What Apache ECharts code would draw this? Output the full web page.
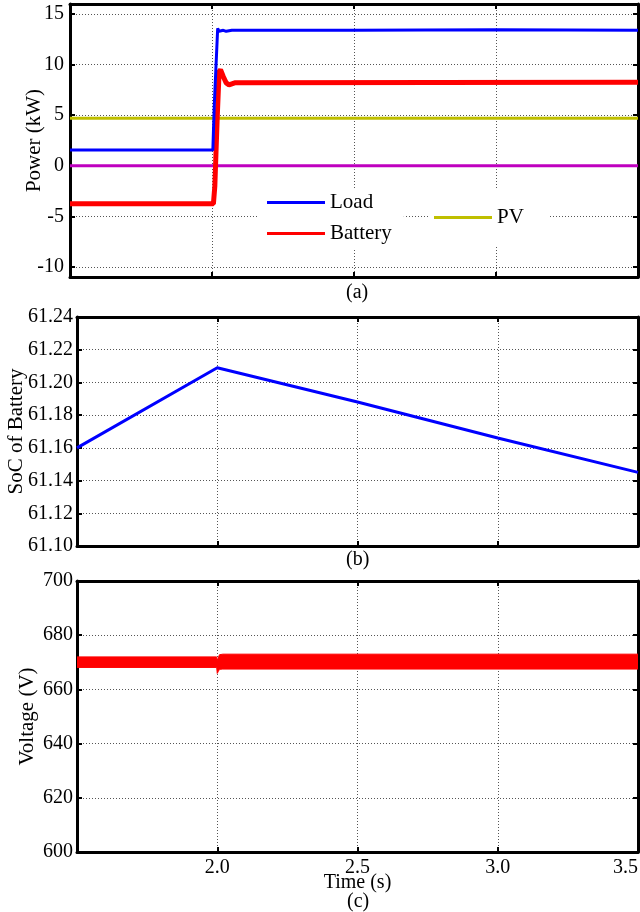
<!DOCTYPE html>
<html>
<head>
<meta charset="utf-8">
<script src="https://cdn.jsdelivr.net/npm/echarts@6.0.0/dist/echarts.min.js"></script>
<style>html,body{margin:0;padding:0;background:#fff}#main{width:640px;height:912px}</style>
</head>
<body>
<div id="main"></div>
<script>
// (a) power flows, kW
var loadT = [1.5, 2.003, 2.008, 2.02, 2.025, 2.032, 2.04, 2.05, 2.07, 2.5, 3.0, 3.5];
var loadP = [1.55, 1.55, 6.0, 13.6, 13.3, 13.25, 13.4, 13.3, 13.4, 13.4, 13.45, 13.4];
var battT = [1.5, 2.005, 2.01, 2.018, 2.025, 2.03, 2.04, 2.05, 2.06, 2.08, 3.5];
var battP = [-3.75, -3.75, -2.0, 4.5, 9.3, 9.5, 8.8, 8.2, 8.0, 8.2, 8.25];
var pvT = [1.5, 3.5];
var pvP = [4.7, 4.7];
var gridT = [1.5, 3.5];
var gridP = [0, 0];
// (b) state of charge
var socT = [1.5, 2.0, 2.5, 3.0, 3.5];
var socV = [61.16, 61.209, 61.188, 61.166, 61.145];
// (c) DC voltage band (lower / upper envelope)
var vT    = [1.5, 1.998, 2.0, 2.003, 2.008, 2.02, 3.5];
var vLow  = [668.1, 668.1, 665.9, 666.5, 667.4, 667.5, 667.5];
var vHigh = [672.0, 672.0, 670.5, 671.5, 672.8, 673.0, 673.0];
// ticks
var powerTicks = [-10, -5, 0, 5, 10, 15];

var FONT = 'Liberation Serif';
var chart = echarts.init(document.getElementById('main'));

function pairs(t, v) {
    return t.map(function (x, i) { return [x, v[i]]; });
}

var grids = [
    {left: 70, right: 2, top: 4, height: 273, outerBoundsMode: 'none', containLabel: false},
    {left: 77, right: 2, top: 317, height: 229, outerBoundsMode: 'none', containLabel: false},
    {left: 77, right: 2, top: 581, height: 271, outerBoundsMode: 'none', containLabel: false}
];

var thick = {show: true, onZero: false, lineStyle: {color: '#000', width: 3}};
var tick = {show: true, inside: true, length: 5, lineStyle: {color: '#000', width: 2}};
var dots = {show: true, lineStyle: {color: '#555', width: 1, type: [1, 2]}};
var nameStyle = {fontFamily: FONT, fontSize: 21, color: '#000'};

var xAxes = [], yAxes = [];
grids.forEach(function (g, i) {
    var last = i === 2;
    xAxes.push({
        type: 'value', gridIndex: i, min: 1.5, max: 3.5, interval: 0.5,
        axisLine: thick, axisTick: tick, splitLine: dots,
        axisLabel: {show: last, margin: 6, fontFamily: FONT, fontSize: 20, color: '#000',
            alignMaxLabel: 'right',
            formatter: function (v) { return v === 1.5 ? '' : v.toFixed(1); }},
        name: last ? 'Time (s)' : '', nameLocation: 'middle', nameGap: 21, nameMoveOverlap: false,
        nameTextStyle: {fontFamily: FONT, fontSize: 20, color: '#000'}
    });
    xAxes.push({
        type: 'value', gridIndex: i, position: 'top', min: 1.5, max: 3.5, interval: 0.5,
        axisLine: thick, axisTick: tick, axisLabel: {show: false}, splitLine: {show: false}
    });
});

var yDefs = [
    {min: -11, max: 16, name: 'Power (kW)', nameGap: 25,
        axisTick: Object.assign({customValues: powerTicks}, tick),
        axisLabel: {customValues: powerTicks, margin: 6, fontFamily: FONT, fontSize: 20, color: '#000'}},
    {min: 61.10, max: 61.24, interval: 0.02, name: 'SoC of Battery', nameGap: 50,
        axisTick: tick,
        axisLabel: {margin: 4, fontFamily: FONT, fontSize: 20, color: '#000',
            formatter: function (v) { return v.toFixed(2); }}},
    {min: 600, max: 700, interval: 20, name: 'Voltage (V)', nameGap: 39,
        axisTick: tick,
        axisLabel: {margin: 4, fontFamily: FONT, fontSize: 20, color: '#000'}}
];
yDefs.forEach(function (d, i) {
    yAxes.push(Object.assign({type: 'value', gridIndex: i, axisLine: thick, splitLine: dots,
        nameLocation: 'middle', nameMoveOverlap: false, nameTextStyle: nameStyle}, d));
    var m = {type: 'value', gridIndex: i, position: 'right', min: d.min, max: d.max,
        axisLine: thick, axisLabel: {show: false}, splitLine: {show: false},
        axisTick: d.axisTick};
    if (d.interval) m.interval = d.interval;
    yAxes.push(m);
});

// voltage envelope drawn as a filled polygon through the axis scales
function renderBand(params, api) {
    var pts = [], i;
    for (i = 0; i < vT.length; i++) pts.push(api.coord([vT[i], vHigh[i]]));
    for (i = vT.length - 1; i >= 0; i--) pts.push(api.coord([vT[i], vLow[i]]));
    return {type: 'polygon', shape: {points: pts}, style: {fill: '#ff0000', stroke: '#ff0000', lineWidth: 1}};
}

var option = {
    animation: false,
    backgroundColor: '#fff',
    grid: grids,
    xAxis: xAxes,
    yAxis: yAxes,
    legend: [{
        data: ['Load', 'Battery'], orient: 'vertical', left: 258, top: 188,
        backgroundColor: '#fff', padding: [4, 12, 4, 9], itemGap: 10,
        itemWidth: 58, itemHeight: 3, icon: 'rect',
        textStyle: {fontFamily: FONT, fontSize: 21, color: '#000'}
    }, {
        data: ['PV'], orient: 'vertical', left: 430, top: 189,
        backgroundColor: '#fff', padding: [18, 26, 18, 4],
        itemWidth: 58, itemHeight: 3, icon: 'rect',
        textStyle: {fontFamily: FONT, fontSize: 21, color: '#000'}
    }],
    graphic: [
        {type: 'text', left: 346, top: 283, style: {text: '(a)', font: '20px "Liberation Serif"', fill: '#000'}},
        {type: 'text', left: 346, top: 550, style: {text: '(b)', font: '20px "Liberation Serif"', fill: '#000'}},
        {type: 'text', left: 347, top: 892, style: {text: '(c)', font: '20px "Liberation Serif"', fill: '#000'}}
    ],
    series: [
        {name: 'Grid', type: 'line', xAxisIndex: 0, yAxisIndex: 0, showSymbol: false,
            data: pairs(gridT, gridP), lineStyle: {color: '#bf00bf', width: 3}, itemStyle: {color: '#bf00bf'}},
        {name: 'PV', type: 'line', xAxisIndex: 0, yAxisIndex: 0, showSymbol: false,
            data: pairs(pvT, pvP), lineStyle: {color: '#bfbf00', width: 3}, itemStyle: {color: '#bfbf00'}},
        {name: 'Battery', type: 'line', xAxisIndex: 0, yAxisIndex: 0, showSymbol: false,
            data: pairs(battT, battP), lineStyle: {color: '#ff0000', width: 5}, itemStyle: {color: '#ff0000'}},
        {name: 'Load', type: 'line', xAxisIndex: 0, yAxisIndex: 0, showSymbol: false,
            data: pairs(loadT, loadP), lineStyle: {color: '#0000ff', width: 3}, itemStyle: {color: '#0000ff'}},
        {name: 'SoC', type: 'line', xAxisIndex: 2, yAxisIndex: 2, showSymbol: false,
            data: pairs(socT, socV), lineStyle: {color: '#0000ff', width: 3}, itemStyle: {color: '#0000ff'}},
        {name: 'Voltage', type: 'custom', xAxisIndex: 4, yAxisIndex: 4,
            data: [[vT[0], vLow[0]]], renderItem: renderBand, clip: true}
    ]
};
chart.setOption(option);
</script>
</body>
</html>
